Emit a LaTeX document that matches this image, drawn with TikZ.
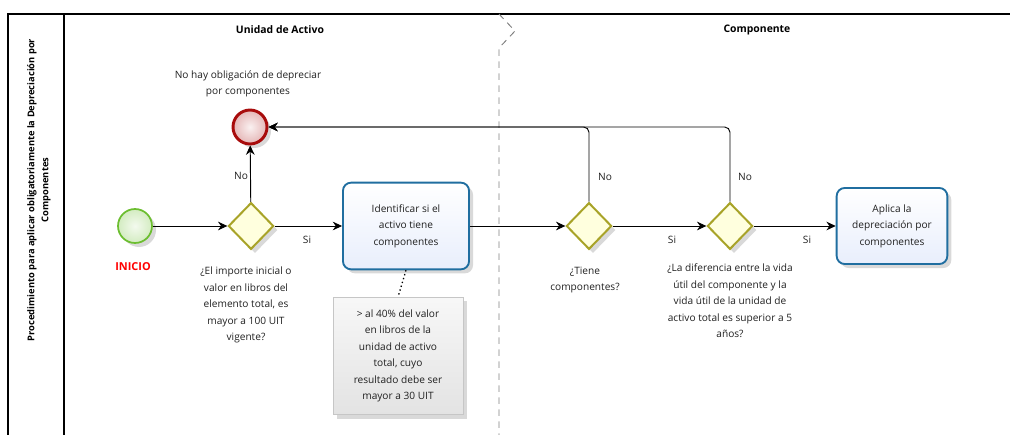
\documentclass[tikz,border=0pt]{standalone}
\usepackage{fontspec}
\setmainfont{Open Sans}
\usetikzlibrary{positioning,shapes.geometric,arrows.meta,shadows}
\definecolor{gwline}{RGB}{168,163,40}
\definecolor{gwfill}{RGB}{255,255,222}
\definecolor{taskline}{RGB}{32,110,160}
\definecolor{taskfill}{RGB}{232,238,252}
\definecolor{startline}{RGB}{108,190,48}
\definecolor{endline}{RGB}{168,12,12}
\definecolor{inktext}{RGB}{32,32,32}
\newcommand\diagfont{\fontsize{7.6}{12.4}\selectfont}
\tikzset{
  soft/.style={drop shadow={shadow xshift=3pt, shadow yshift=-3pt, opacity=0.15, fill=black}
  },
  gate/.style={
    draw=gwline, diamond, line width=1.5pt, fill=gwfill, minimum width=34pt,
    minimum height=35pt, inner sep=0pt, soft
  },
  task/.style={
    draw=taskline, rectangle, rounded corners=6pt, line width=1.4pt, top color=white,
    bottom color=taskfill, align=center, text=inktext, font=\diagfont, soft
  },
  startev/.style={
    draw=startline, circle, line width=1.3pt, inner color=startline!8, outer color=startline!30,
    minimum size=25.5pt, inner sep=0pt, soft
  },
  endev/.style={
    draw=endline, circle, line width=2.2pt, inner color=endline!6, outer color=endline!30,
    minimum size=25.5pt, inner sep=0pt, soft
  },
  note/.style={
    draw=gray!45, rectangle, top color=gray!6, bottom color=gray!22, align=center,
    text=inktext, font=\diagfont, minimum width=97.5pt, minimum height=88pt, soft
  },
  txt/.style={align=center, inner sep=0pt, text=inktext, font=\diagfont},
  flow/.style={-{Stealth[length=7pt,width=6.5pt]}, line width=0.7pt}
}

\begin{document}
\begin{tikzpicture}[x=0.75pt,y=-0.75pt]
  \useasboundingbox (0,0) rectangle (1014,435);
  % pool and lanes
  \draw[line width=0.8pt] (8,435) -- (8,14) -- (1010,14);
  \draw[line width=0.8pt] (64,14) -- (64,435);
  \draw[gray, line width=0.7pt, dash pattern=on 5pt off 4pt] (499,14) -- (515,31) -- (499,48) -- (499,435);
  \node[rotate=90, align=center, inner sep=0pt, font=\fontsize{7}{10.5}\selectfont\bfseries] (pool) at (39,190)
    {Procedimiento para aplicar obligatoriamente la Depreciación por\\Componentes};
  \node[font=\fontsize{7.8}{10}\selectfont\bfseries] (lane1) at (280,30) {Unidad de Activo};
  \node[font=\fontsize{7.8}{10}\selectfont\bfseries] (lane2) at (757,30) {Componente};

  % events, gateways, tasks
  \node[startev] (start) at (135,226) {};
  \node[txt, text=red, font=\fontsize{8.2}{10}\selectfont\bfseries] (inicio) at (133,267) {INICIO};
  \node[gate] (g1) at (251,226) {};
  \node[endev] (end) at (250,127) {};
  \node[txt] (endtxt) at (248,84) {No hay obligación de depreciar\\por componentes};
  \node[task, minimum width=94.5pt, minimum height=65pt] (t1) at (406,226)
    {Identificar si el\\activo tiene\\componentes};
  \node[note] (n1) at (398,356)
    {> al 40\% del valor\\en libros de la\\unidad de activo\\total, cuyo\\resultado debe ser\\mayor a 30 UIT};
  \node[gate] (g2) at (589,226) {};
  \node[gate] (g3) at (730,226) {};
  \node[task, minimum width=83pt, minimum height=57pt] (t2) at (892,226)
    {Aplica la\\depreciación por\\componentes};

  % questions
  \node[txt] (q1) at (246,305)
    {¿El importe inicial o\\valor en libros del\\elemento total, es\\mayor a 100 UIT\\vigente?};
  \node[txt] (q2) at (585,280) {¿Tiene\\componentes?};
  \node[txt] (q3) at (730,301)
    {¿La diferencia entre la vida\\útil del componente y la\\vida útil de la unidad de\\activo total es superior a 5\\años?};

  % flows
  \draw[flow] (start) -- (g1);
  \draw[flow] (g1) -- (t1);
  \draw[flow] (t1) -- (g2);
  \draw[flow] (g2) -- (g3);
  \draw[flow] (g3) -- (t2);
  \draw[flow] (g1) -- (end);
  \draw[flow, rounded corners=4pt] (g2.north) |- (end);
  \draw[flow, rounded corners=4pt] (g3.north) |- (end);
  \draw[line width=1pt, dotted] (t1.south) -- (n1.north);

  % flow labels
  \node[txt] (si1) at (307,240) {Si};
  \node[txt] (si2) at (672,240) {Si};
  \node[txt] (si3) at (807,240) {Si};
  \node[txt] (no1) at (241,176) {No};
  \node[txt] (no2) at (605,177) {No};
  \node[txt] (no3) at (745,177) {No};
\end{tikzpicture}
\end{document}
